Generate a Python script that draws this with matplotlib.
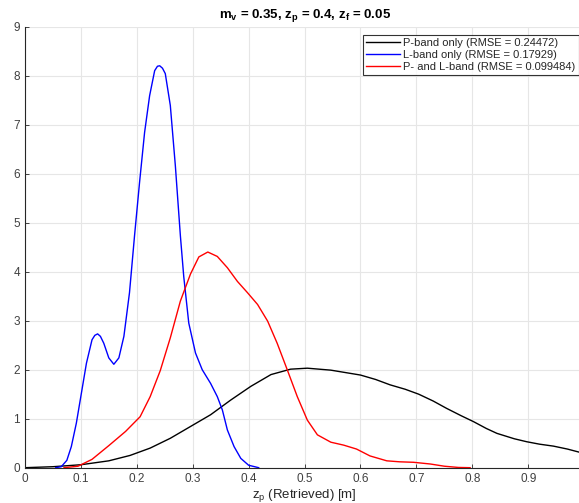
import numpy as np
import matplotlib
matplotlib.use("Agg")
import matplotlib.pyplot as plt

plt.rcParams["font.family"] = ["Liberation Sans", "DejaVu Sans"]
plt.rcParams["mathtext.default"] = "regular"

# values
p_x = [0.0, 0.05, 0.1, 0.15, 0.188, 0.224, 0.26, 0.296, 0.332, 0.368, 0.404,
       0.44, 0.475, 0.505, 0.547, 0.6, 0.627, 0.653, 0.68, 0.704, 0.73, 0.754,
       0.78, 0.802, 0.825, 0.844, 0.875, 0.897, 0.92, 0.945, 0.97, 1.0]
p_y = [0.0, 0.02, 0.06, 0.14, 0.25, 0.40, 0.60, 0.84, 1.08, 1.38, 1.66,
       1.90, 2.01, 2.03, 1.99, 1.89, 1.80, 1.69, 1.60, 1.50, 1.36, 1.21,
       1.06, 0.94, 0.80, 0.70, 0.59, 0.53, 0.48, 0.44, 0.38, 0.29]

l_x = [0.055, 0.065, 0.075, 0.083, 0.092, 0.101, 0.110, 0.120, 0.125, 0.13,
       0.135, 0.141, 0.15, 0.159, 0.168, 0.177, 0.187, 0.196, 0.205, 0.214,
       0.223, 0.232, 0.237, 0.241, 0.246, 0.251, 0.26, 0.269, 0.278, 0.284,
       0.293, 0.305, 0.317, 0.332, 0.344, 0.353, 0.362, 0.374, 0.386, 0.4,
       0.418]
l_y = [0.0, 0.02, 0.15, 0.43, 0.91, 1.52, 2.13, 2.61, 2.70, 2.73,
       2.68, 2.54, 2.24, 2.11, 2.24, 2.68, 3.57, 4.73, 5.82, 6.84,
       7.59, 8.10, 8.19, 8.20, 8.15, 8.04, 7.39, 6.16, 4.73, 3.90,
       2.95, 2.34, 2.0, 1.72, 1.45, 1.18, 0.77, 0.43, 0.19, 0.05,
       0.0]

pl_x = [0.07, 0.095, 0.12, 0.15, 0.18, 0.206, 0.224, 0.242, 0.26, 0.278,
        0.296, 0.311, 0.327, 0.344, 0.362, 0.38, 0.398, 0.416, 0.434, 0.451,
        0.469, 0.487, 0.505, 0.523, 0.547, 0.57, 0.593, 0.617, 0.647, 0.67,
        0.695, 0.725, 0.75, 0.775, 0.796]
pl_y = [0.0, 0.03, 0.17, 0.45, 0.74, 1.04, 1.45, 1.98, 2.65, 3.40,
        3.95, 4.30, 4.40, 4.31, 4.08, 3.80, 3.57, 3.33, 2.99, 2.54,
        2.0, 1.45, 0.97, 0.67, 0.52, 0.46, 0.38, 0.24, 0.14, 0.12,
        0.11, 0.075, 0.03, 0.005, 0.0]

labels = ["P-band only (RMSE = 0.24472)",
          "L-band only (RMSE = 0.17929)",
          "P- and L-band (RMSE = 0.099484)"]
x_ticks = [0, 0.1, 0.2, 0.3, 0.4, 0.5, 0.6, 0.7, 0.8, 0.9]
x_tick_labels = ["0", "0.1", "0.2", "0.3", "0.4", "0.5", "0.6", "0.7", "0.8", "0.9"]
y_ticks = list(range(10))

fig = plt.figure(figsize=(5.79, 5.03), dpi=100)
ax = fig.add_axes([0.043, 0.0702, 0.966, 0.877])

ax.plot(p_x, p_y, color="black", lw=1.0, label=labels[0], solid_joinstyle="round")
ax.plot(l_x, l_y, color="blue", lw=1.0, label=labels[1], solid_joinstyle="round")
ax.plot(pl_x, pl_y, color="red", lw=1.0, label=labels[2], solid_joinstyle="round")

ax.set_xlim(0, 1)
ax.set_ylim(0, 9)
ax.set_xticks(x_ticks)
ax.set_xticklabels(x_tick_labels)
ax.set_yticks(y_ticks)
ax.grid(True, color="#e6e6e6", lw=0.8)
ax.set_axisbelow(True)
for s in ["top", "right"]:
    ax.spines[s].set_visible(False)
for s in ["left", "bottom"]:
    ax.spines[s].set_color("#262626")
    ax.spines[s].set_linewidth(0.8)
ax.tick_params(direction="in", length=3, width=0.6, labelsize=8.5,
               labelcolor="#404040", color="#262626")

ax.set_title("m$_v$ = 0.35, z$_p$ = 0.4, z$_f$ = 0.05",
             fontsize=9.5, fontweight="bold", pad=6)
ax.set_xlabel("z$_p$ (Retrieved) [m]", fontsize=9.5, color="#262626", labelpad=2)

leg = fig.legend(loc="upper left", bbox_to_anchor=(363 / 579, 1 - 35 / 503),
                 fontsize=8, frameon=True, fancybox=False, handlelength=3.0,
                 borderpad=0.3, labelspacing=0.15, handletextpad=0.3,
                 borderaxespad=0)
leg.get_frame().set_edgecolor("black")
leg.get_frame().set_linewidth(0.8)
for t in leg.get_texts():
    t.set_color("#262626")

fig.savefig("out.png", dpi=100)
